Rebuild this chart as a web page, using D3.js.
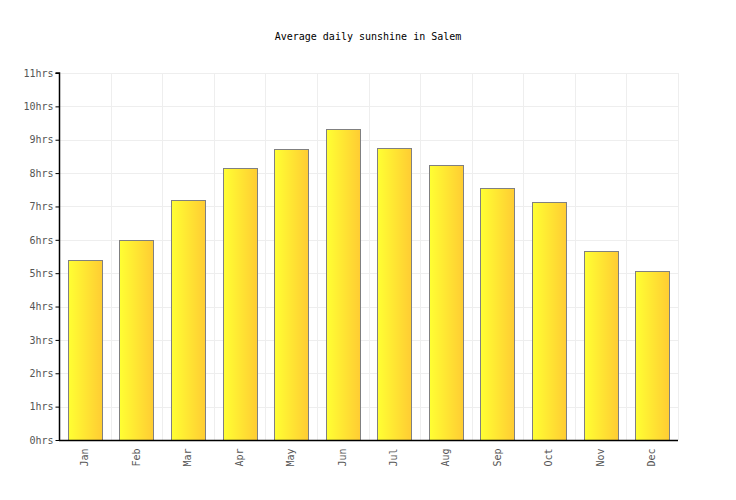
<!DOCTYPE html>
<html>
<head>
<meta charset="utf-8">
<script src="https://cdn.jsdelivr.net/npm/d3@7"></script>
<style>
  body { margin: 0; background: #fff; }
  text { font-family: "DejaVu Sans Mono", monospace; font-size: 10px; }
</style>
</head>
<body>
<script>
var months = ["Jan", "Feb", "Mar", "Apr", "May", "Jun", "Jul", "Aug", "Sep", "Oct", "Nov", "Dec"];
var sunshine = [5.4, 6.0, 7.19, 8.14, 8.72, 9.31, 8.74, 8.23, 7.55, 7.12, 5.66, 5.06];
var hourTicks = [0, 1, 2, 3, 4, 5, 6, 7, 8, 9, 10, 11];

var width = 736, height = 500,
    plotLeft = 59, plotRight = 678, plotTop = 73, plotBottom = 440;

var svg = d3.select("body").append("svg")
    .attr("width", width)
    .attr("height", height);

var grad = svg.append("defs").append("linearGradient")
    .attr("id", "barGrad")
    .attr("x1", "0%").attr("x2", "100%").attr("y1", "0%").attr("y2", "0%");
grad.append("stop").attr("offset", "0%").attr("stop-color", "#ffff33");
grad.append("stop").attr("offset", "100%").attr("stop-color", "#ffcc33");

var x = d3.scaleBand()
    .domain(months)
    .range([plotLeft, plotRight])
    .paddingInner(0.34)
    .paddingOuter(0.17);

var y = d3.scaleLinear()
    .domain([0, 11])
    .range([plotBottom, plotTop]);

// grid
svg.append("g").selectAll("line.h")
   .data(hourTicks)
   .enter().append("line")
   .attr("x1", plotLeft).attr("x2", plotRight)
   .attr("y1", function(d){ return Math.round(y(d)) + 0.5 })
   .attr("y2", function(d){ return Math.round(y(d)) + 0.5 })
   .style("stroke", "#eeeeee");

var step = (plotRight - plotLeft) / months.length;
svg.append("g").selectAll("line.v")
   .data(d3.range(months.length + 1))
   .enter().append("line")
   .attr("x1", function(i){ return Math.round(plotLeft + i * step) + 0.5 })
   .attr("x2", function(i){ return Math.round(plotLeft + i * step) + 0.5 })
   .attr("y1", plotTop).attr("y2", plotBottom)
   .style("stroke", "#eeeeee");

// bars
svg.append("g").selectAll("rect")
   .data(sunshine)
   .enter().append("rect")
   .attr("x", function(d, i){ return Math.round(x(months[i])) + 0.5 })
   .attr("y", function(d){ return Math.round(y(d)) + 0.5 })
   .attr("width", Math.round(x.bandwidth()))
   .attr("height", function(d){ return Math.round(plotBottom - y(d)) })
   .style("fill", "url(#barGrad)")
   .style("stroke", "#808080")
   .style("stroke-width", 1);

// y axis
var yAxis = svg.append("g")
    .attr("transform", "translate(" + (plotLeft + 0.5) + ",0)")
    .call(d3.axisLeft(y).tickValues(hourTicks).tickSize(4).tickFormat(function(d){ return d + "hrs" }));
yAxis.select(".domain").attr("d", "M-4," + plotTop + "H0V" + plotBottom).style("stroke", "#000").style("stroke-width", 1.5);
yAxis.selectAll(".tick line").style("stroke", "#000");
yAxis.selectAll(".tick text").attr("x", -6).style("fill", "#555").style("font-family", "DejaVu Sans Mono").style("font-size", "10px");

// x axis
var xAxis = svg.append("g")
    .attr("transform", "translate(0," + (plotBottom + 0.5) + ")")
    .call(d3.axisBottom(x).tickSize(0));
xAxis.select(".domain").attr("d", "M" + plotLeft + ",0H" + plotRight).style("stroke", "#000").style("stroke-width", 1.5);
xAxis.selectAll(".tick text")
    .attr("transform", "rotate(-90)")
    .attr("x", -8).attr("y", 0).attr("dy", "0.32em")
    .style("text-anchor", "end")
    .style("fill", "#555")
    .style("font-family", "DejaVu Sans Mono")
    .style("font-size", "10px");

svg.append("text")
   .attr("x", width / 2)
   .attr("y", 40)
   .attr("text-anchor", "middle")
   .style("fill", "#000")
   .text("Average daily sunshine in Salem");
</script>
</body>
</html>
